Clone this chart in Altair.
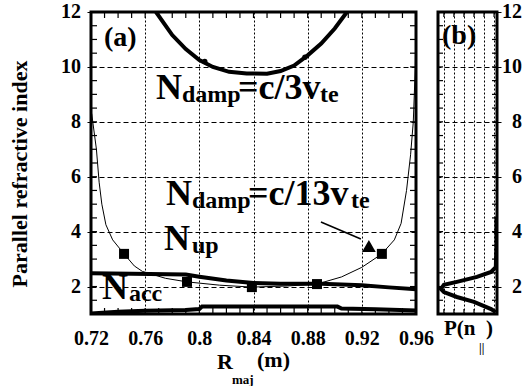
import altair as alt
import pandas as pd

FONT = "Liberation Serif"

# ---- panel (a): parallel refractive index versus major radius ----
# N_damp = c/3v_te (thick U-shaped curve)
damp3_R = [0.768, 0.78, 0.79, 0.80, 0.81, 0.822, 0.835, 0.85, 0.86, 0.87, 0.88, 0.89, 0.90, 0.909]
damp3_N = [12.0, 11.16, 10.65, 10.25, 10.0, 9.82, 9.76, 9.75, 9.85, 10.05, 10.42, 10.85, 11.4, 12.0]
damp3_dot_R = [0.804, 0.878]
damp3_dot_N = [10.2, 10.35]

# N_up (thin curve)
up_R = [0.7205, 0.724, 0.726, 0.728, 0.731, 0.736, 0.7444, 0.752, 0.758, 0.775, 0.7909, 0.815,
        0.8388, 0.865, 0.8869, 0.905, 0.92, 0.9348, 0.944, 0.949, 0.953, 0.956, 0.958, 0.9595, 0.96]
up_N = [8.3, 7.0, 5.8, 5.0, 4.25, 3.7, 3.19, 2.75, 2.55, 2.3, 2.17, 2.05,
        1.98, 2.02, 2.09, 2.35, 2.7, 3.19, 3.7, 4.3, 5.5, 6.8, 8.0, 10.0, 12.0]
up_mark_R = [0.7444, 0.7909, 0.8388, 0.8869, 0.9348]
up_mark_N = [3.19, 2.17, 1.98, 2.09, 3.19]

# N_acc (thick curve near 2)
acc_R = [0.72, 0.75, 0.79, 0.80, 0.82, 0.84, 0.86, 0.89, 0.92, 0.94, 0.96]
acc_N = [2.48, 2.47, 2.44, 2.36, 2.22, 2.13, 2.10, 2.10, 2.05, 1.97, 1.90]

# lower bound curve near 1
low_R = [0.72, 0.74, 0.76, 0.79, 0.80, 0.802, 0.84, 0.88, 0.902, 0.905, 0.93, 0.96]
low_N = [1.02, 1.08, 1.12, 1.15, 1.18, 1.27, 1.27, 1.27, 1.27, 1.20, 1.17, 1.13]

# N_damp = c/13v_te marker and its pointer
tri_R = [0.9252]
tri_N = [3.48]
arrow_R = [0.8898, 0.9193]
arrow_N = [4.35, 3.73]

# ---- panel (b): spectrum P(n_par) ----
p_n = [1.07, 1.18, 1.44, 1.62, 1.80, 1.91, 2.06, 2.17, 2.35, 2.53, 2.71, 3.5, 4.55]
p_val = [0.98, 0.90, 0.61, 0.32, 0.10, 0.05, 0.10, 0.32, 0.66, 0.90, 0.98, 0.99, 0.99]

# axis values
x_major = [0.72, 0.76, 0.8, 0.84, 0.88, 0.92, 0.96]
y_major = [2, 4, 6, 8, 10, 12]
x_minor = [round(0.72 + 0.01 * i, 2) for i in range(1, 24)]
y_minor = [1 + 0.5 * i for i in range(1, 22)]
b_grid = [0.1, 0.27, 0.44, 0.61, 0.78, 0.95]

# annotation pieces (text, R, N, font size)
ann_txt = ["N", "damp", "=c/3v", "te",
           "N", "damp", "=c/13v", "te",
           "N", "up",
           "N", "acc",
           "(a)"]
ann_R = [0.768, 0.7872, 0.8285, 0.8891,
         0.7754, 0.7946, 0.8359, 0.912,
         0.7739, 0.7946,
         0.7281, 0.748,
         0.7296]
ann_N = [8.83, 8.72, 8.83, 8.72,
         4.97, 4.86, 4.97, 4.86,
         3.33, 3.22,
         1.55, 1.48,
         10.76]
ann_fs = [36, 24, 36, 24,
          36, 24, 36, 24,
          36, 24,
          36, 24,
          28]

W_A, W_B, H = 325, 59, 302
XS = alt.Scale(domain=[0.72, 0.96], nice=False, zero=False)
YS = alt.Scale(domain=[1, 12], nice=False, zero=False)
LBL = dict(labelFont=FONT, labelFontWeight="bold", labelFontSize=20,
           labelColor="black", labelFlush=False)
BOLD = dict(font=FONT, fontWeight="bold", color="black")


def df(**cols):
    return pd.DataFrame(cols)


def text_piece(txt, x, y, size, **kw):
    opts = dict(align="left", baseline="alphabetic", fontSize=size)
    opts.update(kw)
    return alt.Chart(df(t=[txt])).mark_text(**BOLD, **opts).encode(
        text="t:N", x=alt.value(x), y=alt.value(y))


# the same encodings (with identical axis specs) are shared by every layer
xa = alt.X("R:Q", scale=XS, axis=alt.Axis(
    values=x_major, format=".2~f", grid=True, gridDash=[2, 2], tickSize=0,
    labelPadding=14, domain=False, title=None, **LBL))
ya = alt.Y("N:Q", scale=YS, axis=alt.Axis(
    values=y_major, grid=True, gridDash=[5, 3], tickSize=4, labels=False,
    domain=False, title=None))

damp3 = alt.Chart(df(R=damp3_R, N=damp3_N)).mark_line(
    color="black", strokeWidth=4, clip=True).encode(x=xa, y=ya)
damp3_dots = alt.Chart(df(R=damp3_dot_R, N=damp3_dot_N)).mark_circle(
    color="black", size=30, opacity=1).encode(x=xa, y=ya)
up_line = alt.Chart(df(R=up_R, N=up_N)).mark_line(
    color="black", strokeWidth=1, clip=True).encode(x=xa, y=ya)
up_marks = alt.Chart(df(R=up_mark_R, N=up_mark_N)).mark_square(
    color="black", size=100, opacity=1).encode(x=xa, y=ya)
acc_line = alt.Chart(df(R=acc_R, N=acc_N)).mark_line(
    color="black", strokeWidth=4, clip=True).encode(x=xa, y=ya)
low_line = alt.Chart(df(R=low_R, N=low_N)).mark_line(
    color="black", strokeWidth=4, clip=True).encode(x=xa, y=ya)
arrow = alt.Chart(df(R=arrow_R, N=arrow_N)).mark_line(
    color="black", strokeWidth=1.5).encode(x=xa, y=ya)
tri = alt.Chart(df(R=tri_R, N=tri_N)).mark_point(
    shape="triangle-up", filled=True, color="black", size=190, opacity=1
).encode(x=xa, y=ya)

ann = alt.Chart(df(t=ann_txt, R=ann_R, N=ann_N, fs=ann_fs)).mark_text(
    align="left", baseline="alphabetic", **BOLD
).encode(x=xa, y=ya, text="t:N", size=alt.Size("fs:Q", scale=None))

# y tick labels of panel (a), drawn left of the frame
ylab_a = alt.Chart(df(N=y_major)).mark_text(
    align="right", baseline="middle", fontSize=20, **BOLD
).encode(y=ya, x=alt.value(-10), text=alt.Text("N:Q", format="d"))

# inward minor ticks on all four sides of panel (a)
ticks_l = alt.Chart(df(N=y_minor)).mark_rule(color="black", strokeWidth=1.2).encode(
    y=ya, x=alt.value(0), x2=alt.value(6))
ticks_r = alt.Chart(df(N=y_minor)).mark_rule(color="black", strokeWidth=1.2).encode(
    y=ya, x=alt.value(W_A), x2=alt.value(W_A - 6))
ticks_b = alt.Chart(df(R=x_minor)).mark_rule(color="black", strokeWidth=1.2).encode(
    x=xa, y=alt.value(H), y2=alt.value(H - 6))
ticks_t = alt.Chart(df(R=x_minor)).mark_rule(color="black", strokeWidth=1.2).encode(
    x=xa, y=alt.value(0), y2=alt.value(6))

panel_a = alt.layer(
    ticks_l, ticks_r, ticks_b, ticks_t,
    low_line, acc_line, up_line, damp3, damp3_dots, up_marks, arrow, tri, ann, ylab_a,
    text_piece("Parallel refractive index", -71, 162, 22,
               angle=270, align="center", baseline="middle"),
    text_piece("R", 126, 357, 22),
    text_piece("maj", 141, 372, 13),
    text_piece("(m)", 166, 355, 22),
).properties(width=W_A, height=H)

# ---- panel (b) ----
XB = alt.Scale(domain=[0, 1], nice=False, zero=False)
xb = alt.X("P:Q", scale=XB, axis=alt.Axis(
    values=b_grid, grid=True, gridDash=[2, 2], labels=False, ticks=False,
    domain=False, title=None))
yb = alt.Y("N:Q", scale=YS, axis=alt.Axis(
    orient="right", values=y_major, grid=True, gridDash=[5, 3], tickSize=4,
    labels=False, domain=False, title=None))

p_curve = alt.Chart(df(P=p_val, N=p_n, o=list(range(len(p_n))))).mark_line(
    color="black", strokeWidth=4, clip=True).encode(x=xb, y=yb, order="o:Q")

ylab_b = alt.Chart(df(N=y_major)).mark_text(
    align="right", baseline="middle", fontSize=20, **BOLD
).encode(y=yb, x=alt.value(W_B + 25), text=alt.Text("N:Q", format="d"))

bt_l = alt.Chart(df(N=y_minor)).mark_rule(color="black", strokeWidth=1.2).encode(
    y=yb, x=alt.value(0), x2=alt.value(5))
bt_r = alt.Chart(df(N=y_minor)).mark_rule(color="black", strokeWidth=1.2).encode(
    y=yb, x=alt.value(W_B), x2=alt.value(W_B - 5))
bt_b = alt.Chart(df(P=b_grid)).mark_rule(color="black", strokeWidth=1.2).encode(
    x=xb, y=alt.value(H), y2=alt.value(H - 5))
bt_t = alt.Chart(df(P=b_grid)).mark_rule(color="black", strokeWidth=1.2).encode(
    x=xb, y=alt.value(0), y2=alt.value(5))

panel_b = alt.layer(
    bt_l, bt_r, bt_b, bt_t, p_curve, ylab_b,
    text_piece("(b)", 4, 32, 28),
    text_piece("P(n", 6, 323, 21),
    text_piece(")", 48, 323, 21),
    text_piece("||", 41, 340, 12),
).properties(width=W_B, height=H)

chart = alt.hconcat(panel_a, panel_b, spacing=22, bounds="flush").properties(
    padding={"left": 7, "top": 0, "right": 0, "bottom": 4},
    background="white",
).configure_axis(
    labelFont=FONT, labelFontWeight="bold", labelFontSize=20, labelColor="black",
    tickColor="black", gridColor="black", gridWidth=1, gridOpacity=1,
).configure_view(
    stroke="black", strokeWidth=3
)

chart.save("out.html", embed_options={"renderer": "svg", "actions": False})
